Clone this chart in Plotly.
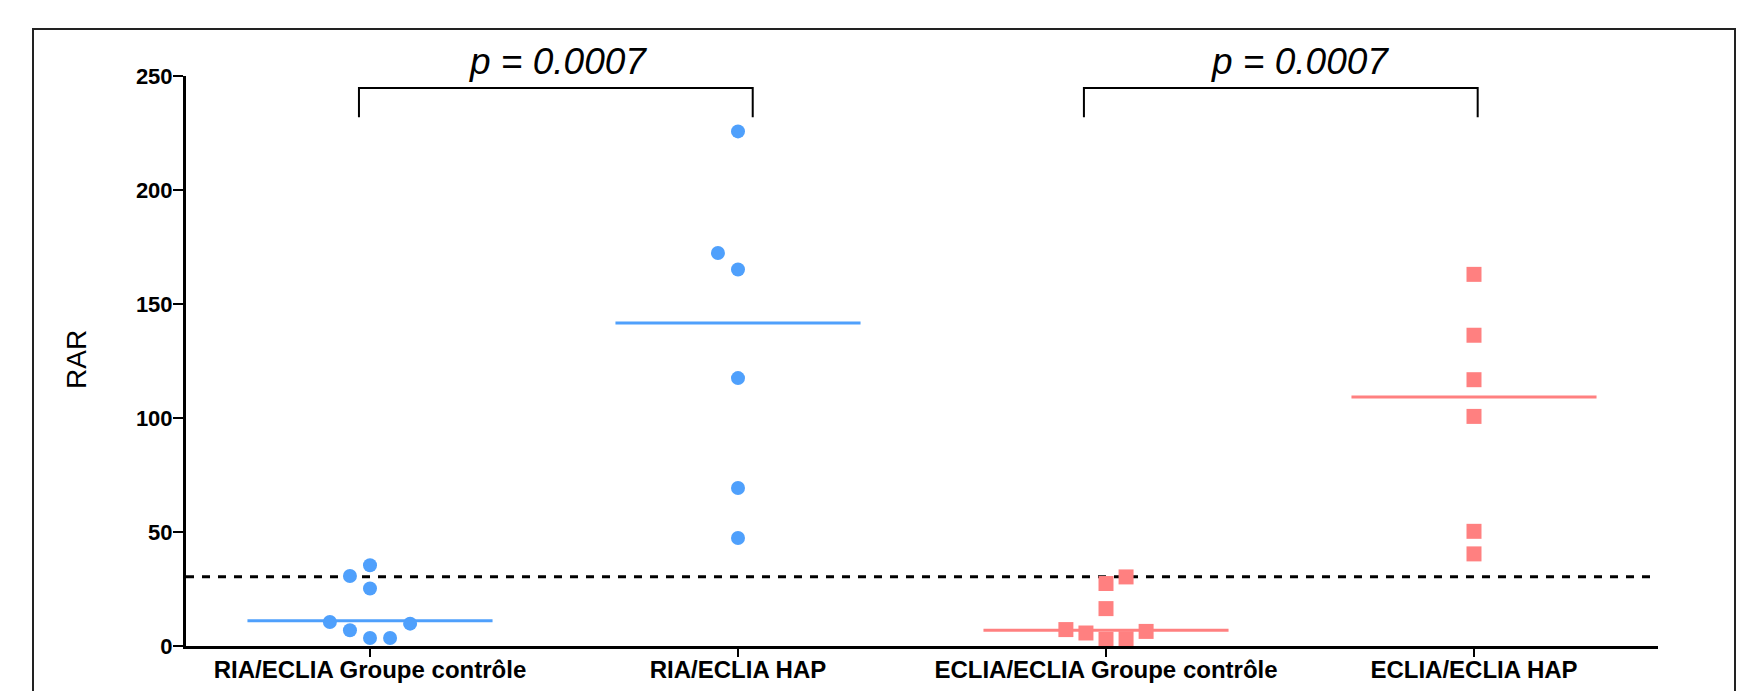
import plotly.graph_objects as go

# ---------------- data ----------------
categories = ["RIA/ECLIA Groupe contrôle", "RIA/ECLIA HAP",
              "ECLIA/ECLIA Groupe contrôle", "ECLIA/ECLIA HAP"]

ria_ctrl = [35.4, 30.7, 25.2, 10.5, 9.8, 6.9, 3.5, 3.5]
ria_ctrl_jitter = [0, -1, 0, -2, 2, -1, 0, 1]

ria_hap = [225.7, 172.4, 165.1, 117.5, 69.3, 47.4]
ria_hap_jitter = [0, -1, 0, 0, 0, 0]

eclia_ctrl = [30.3, 27.4, 16.4, 7.2, 5.7, 6.4, 2.9, 3.2]
eclia_ctrl_jitter = [1, 0, 0, -2, -1, 2, 0, 1]

eclia_hap = [163.0, 136.3, 116.8, 100.7, 50.3, 40.4]
eclia_hap_jitter = [0, 0, 0, 0, 0, 0]

medians = [11.1, 141.7, 6.9, 109.2]
threshold = 30.4

p_labels = ["p = 0.0007", "p = 0.0007"]
bracket_x = [(-0.03, 1.04), (1.94, 3.01)]
bracket_y = (231.9, 244.7)
p_label_x = [0.512, 2.526]

y_ticks = [0, 50, 100, 150, 200, 250]

# ---------------- style ----------------
BLUE = "#4fa0fc"
RED = "#ff8080"
FONT = "Liberation Sans, Arial, sans-serif"
JSTEP = 0.0545
HALF = 0.333

SCREEN_W, SCREEN_H = 1744, 691
OFF = 8                            # default page body margin
W, H = SCREEN_W - OFF, SCREEN_H - OFF
L, R, T, B = 186, 1658, 76, 646    # plot area in screen pixels


def px_x(p):
    return (p - L) / (R - L)


def px_y(p):
    return (B - p) / (B - T)


fig = go.Figure()

# threshold dashed line
fig.add_trace(go.Scatter(x=[-0.5, 3.5], y=[threshold, threshold], mode="lines",
                         line=dict(color="black", width=3, dash="8px,8px"),
                         hoverinfo="skip", showlegend=False))

# median lines
med_colors = [BLUE, BLUE, RED, RED]
for i, m in enumerate(medians):
    fig.add_trace(go.Scatter(x=[i - HALF, i + HALF], y=[m, m], mode="lines",
                             line=dict(color=med_colors[i], width=3),
                             hoverinfo="skip", showlegend=False))

groups = [
    (ria_ctrl, ria_ctrl_jitter, BLUE, "circle", 14),
    (ria_hap, ria_hap_jitter, BLUE, "circle", 14),
    (eclia_ctrl, eclia_ctrl_jitter, RED, "square", 15),
    (eclia_hap, eclia_hap_jitter, RED, "square", 15),
]
for i, (vals, jit, col, sym, sz) in enumerate(groups):
    fig.add_trace(go.Scatter(
        x=[i + j * JSTEP for j in jit], y=vals, mode="markers",
        marker=dict(color=col, symbol=sym, size=sz, line=dict(width=0)),
        cliponaxis=False, showlegend=False, name=categories[i]))

shapes = []
# brackets
for (x0, x1) in bracket_x:
    shapes.append(dict(type="path", xref="x", yref="y",
                       path=f"M {x0},{bracket_y[0]} L {x0},{bracket_y[1]} L {x1},{bracket_y[1]} L {x1},{bracket_y[0]}",
                       line=dict(color="black", width=2)))
# outer frame
shapes.append(dict(type="rect", xref="paper", yref="paper",
                   x0=px_x(33), x1=px_x(1735), y0=px_y(720), y1=px_y(29),
                   line=dict(color="#222222", width=2), fillcolor="rgba(0,0,0,0)"))

annotations = []
for txt, xc in zip(p_labels, p_label_x):
    annotations.append(dict(text=f"<i>{txt}</i>", x=xc, xref="x", y=px_y(62), yref="paper",
                            xanchor="center", yanchor="middle", showarrow=False,
                            font=dict(family=FONT, size=37, color="black")))
annotations.append(dict(text="RAR", x=px_x(76), xref="paper", y=px_y(360), yref="paper",
                        xanchor="center", yanchor="middle", textangle=-90, showarrow=False,
                        font=dict(family=FONT, size=28, color="black")))

fig.update_layout(
    width=W, height=H,
    margin=dict(l=L - OFF, r=SCREEN_W - R, t=T - OFF, b=SCREEN_H - B, pad=0),
    paper_bgcolor="white", plot_bgcolor="white",
    shapes=shapes, annotations=annotations,
    showlegend=False,
    xaxis=dict(range=[-0.5, 3.5], tickmode="array", tickvals=[0, 1, 2, 3], ticktext=categories,
               showgrid=False, zeroline=False, showline=True, linecolor="black", linewidth=3,
               ticks="outside", ticklen=8, tickwidth=2, tickcolor="black",
               ticklabelstandoff=-8,
               tickfont=dict(family=FONT, size=24, color="black", weight="bold"),
               automargin=False, fixedrange=True),
    yaxis=dict(range=[0, 250], tickmode="array", tickvals=y_ticks,
               showgrid=False, zeroline=False, showline=True, linecolor="black", linewidth=3,
               ticks="outside", ticklen=10, tickwidth=2, tickcolor="black",
               ticklabelstandoff=-4,
               tickfont=dict(family=FONT, size=22, color="black", weight="bold"),
               automargin=False, fixedrange=True),
)

fig.write_html("out.html")
